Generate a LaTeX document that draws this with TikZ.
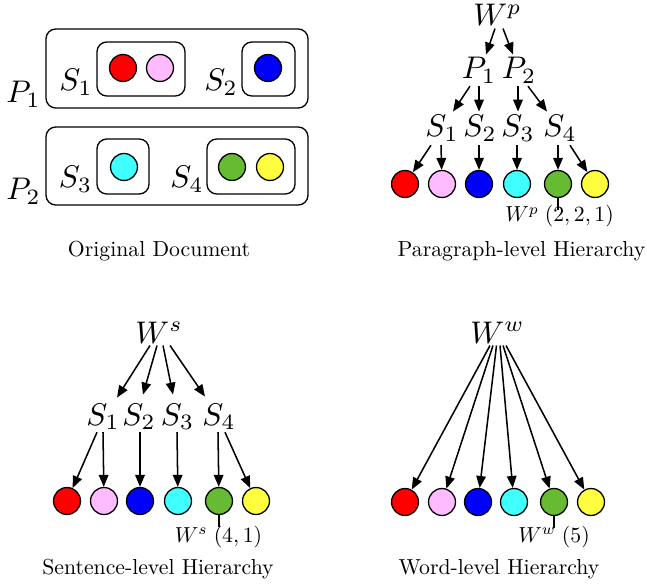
\documentclass[tikz,border=0pt]{standalone}
\usetikzlibrary{arrows.meta}
\definecolor{cred}{RGB}{255,0,0}
\definecolor{cpink}{RGB}{255,187,255}
\definecolor{cblue}{RGB}{0,0,255}
\definecolor{ccyan}{RGB}{64,255,255}
\definecolor{cgreen}{RGB}{102,187,51}
\definecolor{cyellow}{RGB}{255,255,64}
\newcommand\lbltext[1]{\scalebox{1.44}{$#1$}}
\tikzset{
  dotnode/.style={circle, draw, line width=0.6pt, inner sep=0pt, minimum size=12.4pt},
  lbl/.style={font=\normalsize, inner sep=0.5pt, anchor=base},
  captxt/.style={font=\normalsize, inner sep=0pt, anchor=base},
  anntxt/.style={font=\normalsize, inner sep=0pt, anchor=base},
  arr/.style={line width=0.7pt, -{Triangle[length=5.5pt,width=4.4pt]}},
  tickline/.style={line width=0.6pt},
  boxy/.style={draw, line width=0.6pt, rounded corners=4.5pt}
}
\begin{document}
\begin{tikzpicture}[x=0.46pt, y=-0.46pt]
\useasboundingbox (0,0) rectangle (647,588);

% ---------------- Original document ----------------
\draw[boxy] (46,29) rectangle (308,108);
\draw[boxy] (46,127) rectangle (308,205);
\draw[boxy] (97,42) rectangle (185,96);
\draw[boxy] (242,42) rectangle (295,96);
\draw[boxy] (97,139) rectangle (149,194);
\draw[boxy] (207,139) rectangle (295,194);
\node[dotnode, fill=cred]    (o1) at (123,68) {};
\node[dotnode, fill=cpink]   (o2) at (160,68) {};
\node[dotnode, fill=cblue]   (o3) at (268,68) {};
\node[dotnode, fill=ccyan]   (o4) at (124,167) {};
\node[dotnode, fill=cgreen]  (o5) at (232,167) {};
\node[dotnode, fill=cyellow] (o6) at (270,167) {};
\node[lbl] (oP1) at (23.5,103) {\lbltext{P_1}};
\node[lbl] (oP2) at (23.5,200) {\lbltext{P_2}};
\node[lbl] (oS1) at (76,91) {\lbltext{S_1}};
\node[lbl] (oS2) at (221,91) {\lbltext{S_2}};
\node[lbl] (oS3) at (75.5,188) {\lbltext{S_3}};
\node[lbl] (oS4) at (187,188) {\lbltext{S_4}};
\node[captxt] (capO) at (159,257) {Original Document};

% ---------------- Paragraph-level ----------------
\node[lbl] (Wp) at (497.5,26) {\lbltext{W^p}};
\node[lbl] (P1) at (479,79) {\lbltext{P_1}};
\node[lbl] (P2) at (519,79) {\lbltext{P_2}};
\node[lbl] (pS1) at (442,137) {\lbltext{S_1}};
\node[lbl] (pS2) at (480,137) {\lbltext{S_2}};
\node[lbl] (pS3) at (518,137) {\lbltext{S_3}};
\node[lbl] (pS4) at (560,137) {\lbltext{S_4}};
\node[dotnode, fill=cred]    (p1) at (405,184) {};
\node[dotnode, fill=cpink]   (p2) at (442,184) {};
\node[dotnode, fill=cblue]   (p3) at (479,184) {};
\node[dotnode, fill=ccyan]   (p4) at (517,184) {};
\node[dotnode, fill=cgreen]  (p5) at (558,184) {};
\node[dotnode, fill=cyellow] (p6) at (595,184) {};
\draw[arr] ([shift={(-2.5,1)}]Wp.south) -- ([shift={(7,-1.5)}]P1.north);
\draw[arr] ([shift={(5.5,1)}]Wp.south) -- ([shift={(-6,-1.5)}]P2.north);
\draw[arr] ([shift={(-9,1)}]P1.south) -- ([shift={(11,-2.5)}]pS1.north);
\draw[arr] ([shift={(0,1)}]P1.south) -- ([shift={(-1,-2.5)}]pS2.north);
\draw[arr] ([shift={(-1,1)}]P2.south) -- ([shift={(0,-2.5)}]pS3.north);
\draw[arr] ([shift={(9,1)}]P2.south) -- ([shift={(-13,-2.5)}]pS4.north);
\draw[arr] ([shift={(-11,2)}]pS1.south) -- (p1);
\draw[arr] ([shift={(-1,2)}]pS1.south) -- (p2);
\draw[arr] ([shift={(-1,2)}]pS2.south) -- (p3);
\draw[arr] ([shift={(-1,2)}]pS3.south) -- (p4);
\draw[arr] ([shift={(-2,2)}]pS4.south) -- (p5);
\draw[arr] ([shift={(10,2)}]pS4.south) -- (p6);
\coordinate (pt) at (558,210);
\draw[tickline] (p5.south) -- (pt);
\node[anntxt] (annP) at (559.5,222) {$W^p\;(2,2,1)$};
\node[captxt] (capP) at (521.5,257) {Paragraph-level Hierarchy};

% ---------------- Sentence-level ----------------
\node[lbl] (Ws) at (159,343) {\lbltext{W^s}};
\node[lbl] (sS1) at (103,425) {\lbltext{S_1}};
\node[lbl] (sS2) at (139,425) {\lbltext{S_2}};
\node[lbl] (sS3) at (177.5,425) {\lbltext{S_3}};
\node[lbl] (sS4) at (219,425) {\lbltext{S_4}};
\node[dotnode, fill=cred]    (s1) at (67,501) {};
\node[dotnode, fill=cpink]   (s2) at (104,501) {};
\node[dotnode, fill=cblue]   (s3) at (140,501) {};
\node[dotnode, fill=ccyan]   (s4) at (178,501) {};
\node[dotnode, fill=cgreen]  (s5) at (219,501) {};
\node[dotnode, fill=cyellow] (s6) at (256,501) {};
\draw[arr] ([shift={(-9,1)}]Ws.south) -- ([shift={(14,-4.5)}]sS1.north);
\draw[arr] ([shift={(-2,1)}]Ws.south) -- ([shift={(4,-7.5)}]sS2.north);
\draw[arr] ([shift={(4,1)}]Ws.south) -- ([shift={(-4.5,-7.5)}]sS3.north);
\draw[arr] ([shift={(11,1)}]Ws.south) -- ([shift={(-14,-5.5)}]sS4.north);
\draw[arr] ([shift={(-6,1)}]sS1.south) -- (s1);
\draw[arr] ([shift={(0,1)}]sS1.south) -- (s2);
\draw[arr] ([shift={(1,1)}]sS2.south) -- (s3);
\draw[arr] ([shift={(-0.5,1)}]sS3.south) -- (s4);
\draw[arr] ([shift={(-1,1)}]sS4.south) -- (s5);
\draw[arr] ([shift={(6,1)}]sS4.south) -- (s6);
\coordinate (st) at (219,527);
\draw[tickline] (s5.south) -- (st);
\node[anntxt] (annS) at (218.5,542) {$W^s\;(4,1)$};
\node[captxt] (capS) at (158,574) {Sentence-level Hierarchy};

% ---------------- Word-level ----------------
\node[lbl] (Ww) at (497.5,343) {\lbltext{W^w}};
\node[dotnode, fill=cred]    (w1) at (405,502) {};
\node[dotnode, fill=cpink]   (w2) at (442,502) {};
\node[dotnode, fill=cblue]   (w3) at (478,502) {};
\node[dotnode, fill=ccyan]   (w4) at (514,502) {};
\node[dotnode, fill=cgreen]  (w5) at (554,502) {};
\node[dotnode, fill=cyellow] (w6) at (591,502) {};
\draw[arr] ([shift={(-7.5,1)}]Ww.south) -- (w1);
\draw[arr] ([shift={(-4.5,1)}]Ww.south) -- (w2);
\draw[arr] ([shift={(-1,1)}]Ww.south) -- (w3);
\draw[arr] ([shift={(2.5,1)}]Ww.south) -- (w4);
\draw[arr] ([shift={(5.5,1)}]Ww.south) -- (w5);
\draw[arr] ([shift={(8.5,1)}]Ww.south) -- (w6);
\coordinate (wt) at (554,528);
\draw[tickline] (w5.south) -- (wt);
\node[anntxt] (annW) at (554,542) {$W^w\;(5)$};
\node[captxt] (capW) at (499,574) {Word-level Hierarchy};
\end{tikzpicture}
\end{document}
